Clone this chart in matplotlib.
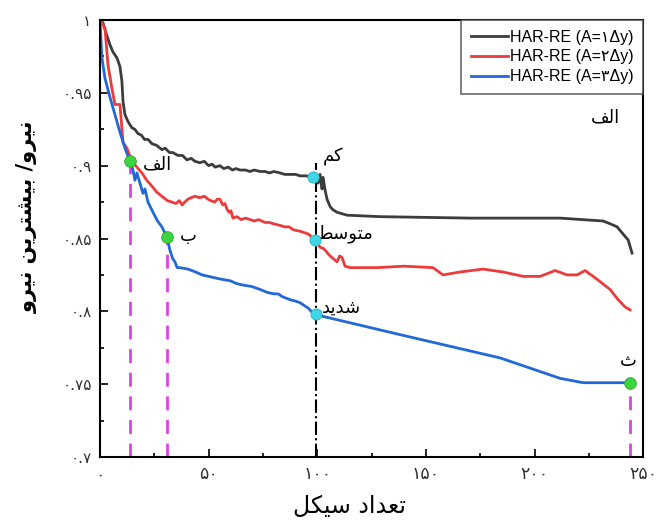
import numpy as np
import matplotlib
import matplotlib.pyplot as plt

matplotlib.use("Agg")

plt.rcParams['font.family'] = ['DejaVu Sans']

# black curve: HAR-RE (A=1dy)
x_a1 = [0, 1.4, 3, 4.6, 6, 7.8, 9.2, 10.1, 10.6, 11.5, 13, 14.7, 16, 17.5, 19, 20.5, 22.1, 24, 26,
        28.5, 30, 32, 33.5, 35.9, 38, 40, 42, 43.7, 46, 48, 50, 51.6, 53, 55.2, 57, 59, 61, 62.5,
        64.5, 67, 69, 71, 73.7, 76, 78, 80, 82.9, 85, 88, 90, 92.1, 95, 98.1, 99.5, 100.4, 101.3,
        102.2, 102.7, 103.5, 104.5, 105.9, 107, 109.1, 113.7, 128.9, 170.3, 211.8, 231.6, 235,
        238, 240.8, 243.1, 244.9]
y_a1 = [1.0, 0.998, 0.99, 0.983, 0.978, 0.974, 0.968, 0.958, 0.944, 0.935, 0.930, 0.926, 0.925,
        0.922, 0.921, 0.918, 0.918, 0.915, 0.914, 0.911, 0.912, 0.909, 0.909, 0.907, 0.907, 0.904,
        0.905, 0.903, 0.902, 0.903, 0.900, 0.901, 0.899, 0.900, 0.898, 0.899, 0.897, 0.898, 0.897,
        0.897, 0.896, 0.897, 0.896, 0.896, 0.895, 0.896, 0.895, 0.894, 0.894, 0.894, 0.893, 0.893,
        0.892, 0.891, 0.888, 0.894, 0.884, 0.892, 0.884, 0.877, 0.872, 0.870, 0.868, 0.866, 0.865,
        0.864, 0.864, 0.862, 0.860, 0.858, 0.853, 0.849, 0.840]

# red curve: HAR-RE (A=2dy)
x_a2 = [0, 2.3, 3.7, 5.5, 6.9, 9.2, 10.6, 12.4, 14.7, 17, 19.3, 21.5, 23.9, 26, 28.5, 31, 33.1, 35,
        36.5, 37.8, 39, 40.5, 42, 43.7, 46, 48, 49.7, 51, 52.9, 54, 55.2, 56.5, 57.5, 58.5, 59.5,
        60.3, 61.2, 63, 65, 67, 69.1, 71, 73, 76, 78, 80, 82.9, 85, 87, 89, 92.1, 94, 96, 99,
        101.3, 103, 105.9, 107.5, 109.1, 110.3, 111.4, 112.8, 115.1, 127.5, 140, 153.3, 157.9,
        165.7, 176.3, 185.5, 194.8, 202.6, 209.5, 215, 219.6, 223.3, 228.8, 234.8, 238.5, 241.7, 244]
y_a2 = [1.0, 0.9945, 0.969, 0.953, 0.942, 0.942, 0.916, 0.912, 0.903, 0.899, 0.895, 0.890, 0.886,
        0.882, 0.879, 0.876, 0.875, 0.874, 0.876, 0.873, 0.875, 0.877, 0.878, 0.879, 0.878, 0.879,
        0.877, 0.876, 0.875, 0.877, 0.877, 0.873, 0.874, 0.870, 0.868, 0.869, 0.864, 0.865, 0.863,
        0.864, 0.863, 0.862, 0.863, 0.861, 0.861, 0.860, 0.859, 0.858, 0.858, 0.856, 0.855, 0.854,
        0.853, 0.849, 0.844, 0.843, 0.838, 0.836, 0.834, 0.838, 0.837, 0.831, 0.830, 0.830, 0.831,
        0.830, 0.825, 0.827, 0.829, 0.827, 0.824, 0.824, 0.828, 0.825, 0.825, 0.828, 0.822, 0.815,
        0.808, 0.803, 0.801]

# blue curve: HAR-RE (A=3dy)
x_a3 = [0, 0.5, 0.9, 2.3, 4.6, 6.9, 9.2, 11.5, 13.8, 15.2, 16.1, 17, 18.4, 19.8, 20.7, 22.1, 24.4,
        26.5, 28.5, 30.8, 32.2, 33.5, 34.5, 35.5, 36.8, 40.5, 44, 47, 50, 52.9, 56, 59.9, 63, 66,
        70, 73.7, 77, 80, 82, 84, 87.5, 90, 92, 94, 96, 98.5, 138.1, 184.2, 211.8, 222.4, 244]
y_a3 = [1.0, 0.986, 0.974, 0.960, 0.947, 0.935, 0.923, 0.912, 0.903, 0.897, 0.890, 0.895, 0.888,
        0.881, 0.884, 0.875, 0.868, 0.862, 0.858, 0.851, 0.842, 0.836, 0.834, 0.830, 0.830, 0.829,
        0.827, 0.825, 0.824, 0.823, 0.822, 0.821, 0.819, 0.818, 0.817, 0.815, 0.813, 0.812, 0.812,
        0.810, 0.808, 0.807, 0.806, 0.804, 0.802, 0.798, 0.784, 0.768, 0.754, 0.751, 0.751]

# marked points
green_x = [13.8, 30.8, 244]
green_y = [0.903, 0.851, 0.751]
cyan_x = [98.1, 99.0, 99.3]
cyan_y = [0.892, 0.849, 0.798]

# Persian text, written as presentation forms in visual order
lbl_alef = '\ufed2\ufedf\ufe8d'                      # الف
lbl_be = '\ufe8f'                                    # ب
lbl_se = '\ufe99'                                    # ث
lbl_kam = '\ufee2\ufedb'                             # کم
lbl_motavaset = '\ufec2\ufeb3\ufeee\ufe98\ufee3'     # متوسط
lbl_shadid = '\ufeaa\ufef3\ufeaa\ufeb7'              # شدید
niroo = '\ufeed\ufeae\ufef4\ufee7'                   # نیرو
bishtarin = '\ufee6\ufef3\ufeae\ufe98\ufeb8\ufef4\ufe91'  # بیشترین
ylabel_txt = niroo + ' ' + bishtarin + ' /' + niroo
xlabel_txt = '\ufede\ufedc\ufef4\ufeb3 \ufea9\ufe8d\ufeaa\ufecc\ufe97'  # تعداد سیکل

x_ticks = [0, 50, 100, 150, 200, 250]
x_ticklabels = ['\u06f0', '\u06f5\u06f0', '\u06f1\u06f0\u06f0', '\u06f1\u06f5\u06f0',
                '\u06f2\u06f0\u06f0', '\u06f2\u06f5\u06f0']
y_ticks = [0.7, 0.75, 0.8, 0.85, 0.9, 0.95, 1.0]
y_ticklabels = ['\u06f0.\u06f7', '\u06f0.\u06f7\u06f5', '\u06f0.\u06f8', '\u06f0.\u06f8\u06f5',
                '\u06f0.\u06f9', '\u06f0.\u06f9\u06f5', '\u06f1']

fig = plt.figure(figsize=(6.56, 5.22), dpi=100)
ax = fig.add_axes([0.1524, 0.1245, 0.828, 0.8372])

# vertical guide lines
for gx, gy in zip(green_x, green_y):
    ax.plot([gx, gx], [0.7, gy], color='#e040e8', linestyle=(0, (5, 3.5)), lw=2, zorder=1)
ax.plot([99.5, 99.5], [0.7, 0.902], color='black', linestyle='-.', lw=1.5, zorder=1)

ax.plot(x_a1, y_a1, color='#3c3c3c', lw=2, label='HAR-RE (A=\u06f1\u0394y)', zorder=2)
ax.plot(x_a2, y_a2, color='#ec3b3b', lw=2, label='HAR-RE (A=\u06f2\u0394y)', zorder=2)
ax.plot(x_a3, y_a3, color='#2168d8', lw=2, label='HAR-RE (A=\u06f3\u0394y)', zorder=2)

ax.scatter(green_x, green_y, s=70, color='#3ed43e', edgecolor='#2aa62a', lw=0.6, zorder=4)
ax.scatter(cyan_x, cyan_y, s=65, color='#3fd6e6', edgecolor='#2fb0c0', lw=0.6, zorder=4)

txt = dict(fontsize=13, color='black', va='center', ha='center')
ax.text(26.5, 0.901, lbl_alef, **txt)
ax.text(40.5, 0.852, lbl_be, **txt)
ax.text(243, 0.766, lbl_se, **txt)
ax.text(107.5, 0.906, lbl_kam, **txt)
ax.text(113, 0.853, lbl_motavaset, **txt)
ax.text(111, 0.803, lbl_shadid, **txt)
ax.text(232.5, 0.933, lbl_alef, **txt)

ax.set_xlim(0, 250)
ax.set_ylim(0.7, 1.0)
ax.set_xticks(x_ticks)
ax.set_xticklabels(x_ticklabels)
ax.set_yticks(y_ticks)
ax.set_yticklabels(y_ticklabels)
ax.set_xticks(np.arange(25, 250, 50), minor=True)
ax.set_yticks(np.arange(0.725, 1.0, 0.05), minor=True)
ax.tick_params(which='both', direction='in', top=False, right=False,
               labelcolor='#333333', width=1.2)
ax.tick_params(axis='x', labelsize=12.5)
ax.tick_params(axis='y', labelsize=11)
ax.tick_params(which='major', length=6, pad=6)
ax.tick_params(which='minor', length=3)
for sp in ax.spines.values():
    sp.set_linewidth(1.5)

ax.set_xlabel(xlabel_txt, fontsize=17)
ax.xaxis.set_label_coords(0.46, -0.085)
ax.set_ylabel(ylabel_txt, fontsize=15, fontweight='bold')
ax.yaxis.set_label_coords(-0.115, 0.55)

leg = ax.legend(loc='upper right', frameon=True, fancybox=False,
                prop={'family': ['Liberation Sans', 'DejaVu Sans'], 'size': 11.5},
                edgecolor='#444444', borderaxespad=0.0, handlelength=2.3,
                borderpad=0.6, labelspacing=0.3, handletextpad=0.15)
leg.get_frame().set_linewidth(1.2)

fig.savefig('out.png', dpi=100)
